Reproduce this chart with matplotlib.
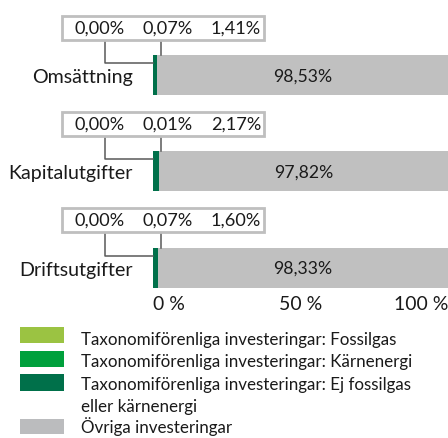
import matplotlib.pyplot as plt
from matplotlib.patches import Rectangle

categories = ["Omsättning", "Kapitalutgifter", "Driftsutgifter"]
fossilgas = [0.00, 0.00, 0.00]
karnenergi = [0.07, 0.01, 0.07]
ej_fossil = [1.41, 2.17, 1.60]
ovriga = [98.53, 97.82, 98.33]

legend_labels = [
    "Taxonomiförenliga investeringar: Fossilgas",
    "Taxonomiförenliga investeringar: Kärnenergi",
    "Taxonomiförenliga investeringar: Ej fossilgas\neller kärnenergi",
    "Övriga investeringar",
]
colors = ["#9bc342", "#00a03c", "#00704a", "#c0c0c0"]
legend_colors = ["#9bc342", "#00a03c", "#00704a", "#bbbcbe"]
TXT = "#1a1a1a"


def pct(v):
    return f"{v:.2f}%".replace(".", ",")


plt.rcParams["font.family"] = ["Lato", "DejaVu Sans"]
W, H = 448, 438
fig = plt.figure(figsize=(W / 100, H / 100), dpi=100)
renderer = fig.canvas.get_renderer()


def size_for(s, target_px, base=12):
    # font size that makes string s about target_px wide
    t = fig.text(0, 0, s, fontsize=base)
    w = t.get_window_extent(renderer).width
    t.remove()
    return base * target_px / w


cat_fs = size_for("Omsättning", 100)
val_fs = size_for("0,00%", 50)
bar_fs = size_for("98,53%", 59)
tick_fs = size_for("100 %", 54)
leg_fs = size_for(legend_labels[0], 316)

h = 0.415
# axes: x 153..448 px, y 27..bottom of last bar (px from top)
top_px, unit = 27, 96.3
bottom_px = top_px + unit * (2.5 + h / 2)
ax = fig.add_axes([153 / W, 1 - bottom_px / H, (448 - 153) / W, (bottom_px - top_px) / H])
ax.set_xlim(0, 100)
ax.set_ylim(2 + h / 2, -0.5)
for s in ax.spines.values():
    s.set_visible(False)
ax.set_yticks([])
ax.tick_params(axis="x", length=0, pad=6, labelsize=tick_fs, labelcolor=TXT)
ax.set_xticks([0, 50, 100])
ax.set_xticklabels(["0 %", "50 %", "100 %"])
tl = ax.get_xticklabels()
tl[0].set_ha("left")
tl[2].set_ha("right")

ypos = list(range(len(categories)))
left = [0.0] * 3
for vals, c in zip([fossilgas, karnenergi, ej_fossil, ovriga], colors):
    ax.barh(ypos, vals, left=left, height=h, color=c, linewidth=0)
    left = [a + b for a, b in zip(left, vals)]

px = 100 / 295  # data units per pixel in x
py = 1 / unit   # data units per pixel in y
for i, cat in enumerate(categories):
    y = ypos[i]
    ax.text(-20 * px, y + 8 * py, cat, ha="right", va="baseline", fontsize=cat_fs,
            color=TXT, clip_on=False)
    start = fossilgas[i] + karnenergi[i] + ej_fossil[i]
    ax.text(start + ovriga[i] / 2, y + 6 * py, pct(ovriga[i]), ha="center", va="baseline",
            fontsize=bar_fs, color=TXT)
    # box with the small shares
    by = y - 47.5 * py
    ax.add_patch(Rectangle((-91 * px, by - 12 * py), 202 * px, 24 * py, facecolor="white",
                           edgecolor="#bfbfbf", linewidth=2, clip_on=False, zorder=3))
    for xv, v in zip([-53, 15, 83], [fossilgas[i], karnenergi[i], ej_fossil[i]]):
        ax.text(xv * px, by + 5.5 * py, pct(v), ha="center", va="baseline", fontsize=val_fs,
                color=TXT, clip_on=False, zorder=4)
    # leader lines
    ax.plot([-48 * px, -48 * px, 0], [by + 12 * py, y - 12 * py, y - 12 * py],
            color="#595959", lw=1.1, clip_on=False, zorder=2)
    ax.plot([8 * px, 8 * px], [by + 12 * py, y - h / 2], color="#595959", lw=1.1,
            clip_on=False, zorder=2)

# legend
patch_rows = [(327, 343), (351, 367), (374, 391), (419, 434)]
baselines = [[345], [367], [390, 412], [433]]
for (y0, y1), bls, lab, c in zip(patch_rows, baselines, legend_labels, legend_colors):
    fig.patches.append(Rectangle((20 / W, 1 - y1 / H), 44 / W, (y1 - y0) / H,
                                 facecolor=c, edgecolor="none",
                                 transform=fig.transFigure, figure=fig))
    for bl, line in zip(bls, lab.split("\n")):
        fig.text(81 / W, 1 - bl / H, line, ha="left", va="baseline",
                 fontsize=leg_fs, color=TXT)

fig.savefig("out.png", dpi=100)
